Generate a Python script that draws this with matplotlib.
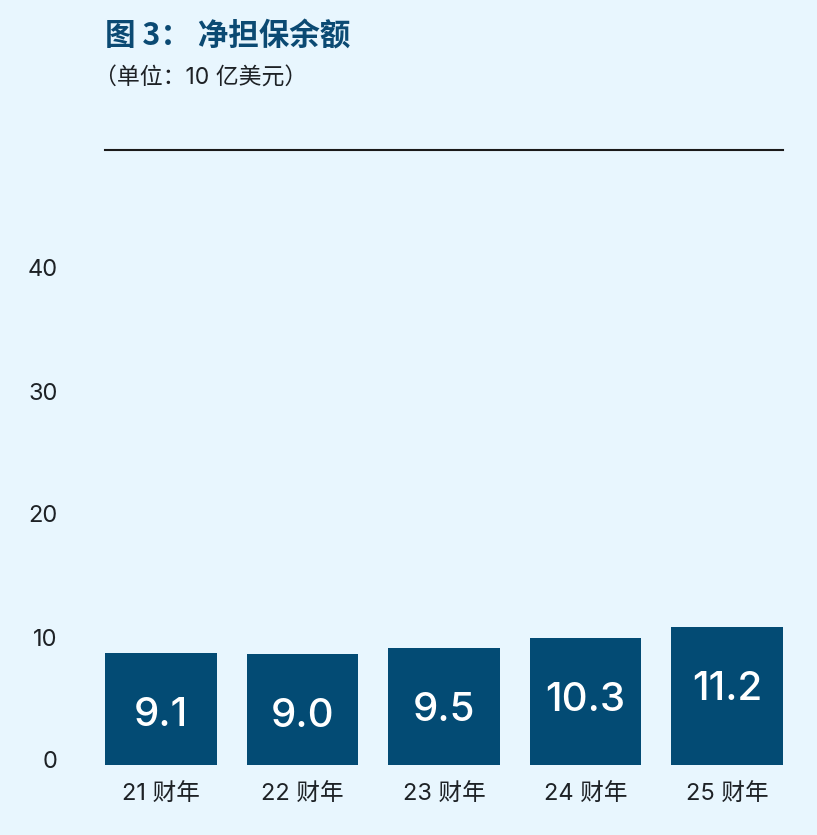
import numpy as np
import matplotlib
matplotlib.use('Agg')
from matplotlib import pyplot as plt
from matplotlib.transforms import ScaledTranslation

# Data
years = ['21 财年', '22 财年', '23 财年', '24 财年', '25 财年']
values = [9.1, 9.0, 9.5, 10.3, 11.2]
value_labels = ['9.1', '9.0', '9.5', '10.3', '11.2']
yticks = [0, 10, 20, 30, 40]

# Settings
bg = '#E8F6FE'
bar_color = '#034B74'
title_color = '#0B4A73'
text_color = '#1E2226'
plt.rcParams['font.family'] = ['Inter', 'Noto Sans CJK SC', 'DejaVu Sans']

W, H = 817, 835
fig = plt.figure(figsize=(W / 100, H / 100), dpi=100, facecolor=bg)
ax = fig.add_axes([105 / W, (H - 765) / H, 678 / W, 615 / H])
ax.set_facecolor(bg)

x = np.arange(len(years))
ax.bar(x, values, width=0.79, color=bar_color, zorder=2)
ax.set_xlim(-0.395, len(years) - 1 + 0.395)
ax.set_ylim(0, 50)

for xi, v, lab in zip(x, values, value_labels):
    ax.annotate(lab, (xi, v), xytext=(0, -62), textcoords='offset pixels',
                ha='center', va='center', color='white', fontsize=29,
                fontweight='medium')

ax.set_yticks(yticks)
ax.set_yticklabels([str(t) for t in yticks])
ax.set_xticks(x)
ax.set_xticklabels(years)
ax.tick_params(axis='y', length=0, pad=34, labelsize=17, labelcolor=text_color)
ax.tick_params(axis='x', length=0, pad=14, labelsize=17, labelcolor=text_color)
# nudge y tick labels up a little like the original
for lab in ax.get_yticklabels():
    lab.set_transform(lab.get_transform() + ScaledTranslation(0, 5 / 100, fig.dpi_scale_trans))
for s in ['left', 'right', 'bottom']:
    ax.spines[s].set_visible(False)
ax.spines['top'].set_color('#1A1A1A')
ax.spines['top'].set_linewidth(1.5)

fig.text(105 / W, 1 - 36 / H, '图 3： 净担保余额', fontsize=22, fontweight='bold',
         color=title_color, ha='left', va='center',
         family=['Noto Sans CJK SC', 'DejaVu Sans'])
fig.text(94 / W, 1 - 78 / H, '（单位：10 亿美元）', fontsize=16.5,
         color=text_color, ha='left', va='center')

fig.savefig('out.png', dpi=100, facecolor=bg)
